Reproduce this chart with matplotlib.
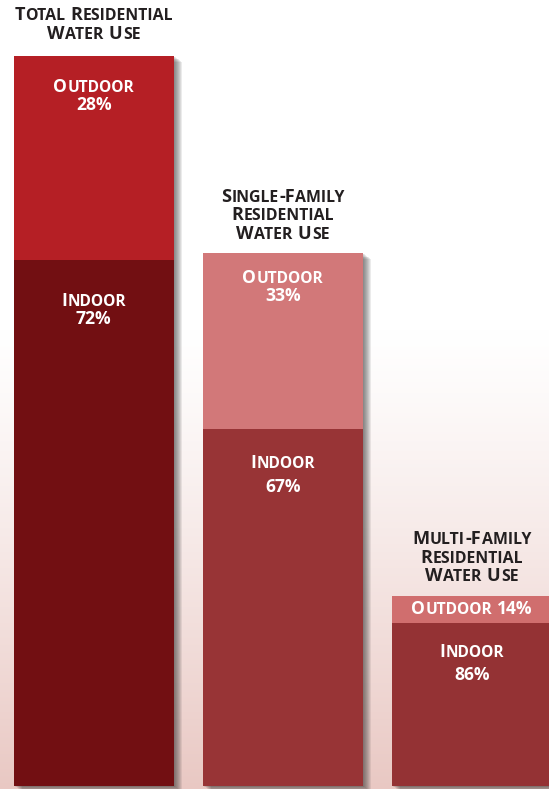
import matplotlib
matplotlib.use('Agg')
import matplotlib.pyplot as plt
import matplotlib.patheffects as pe
from matplotlib.transforms import IdentityTransform
import numpy as np

# data
groups = ['Total Residential\nWater Use',
          'Single-Family\nResidential\nWater Use',
          'Multi-Family\nResidential\nWater Use']
share = [100, 73, 26]          # relative size of each group
outdoor_pct = [28, 33, 14]
indoor_pct = [72, 67, 86]

outdoor_colors = ['#b51f25', '#d27879', '#d06e6e']
indoor_colors = ['#720f12', '#983436', '#943234']

FONT = 'Open Sans'
W, H = 549, 789


def smallcaps(fig, renderer, cx, base, text, big, small, color, weight):
    # fake small caps: capitals and digits at full size, lower case shrunk
    runs = []
    for ch in text:
        size = small if ch.islower() else big
        if runs and runs[-1][1] == size and ch != ' ' and runs[-1][0][-1] != ' ':
            runs[-1][0] += ch.upper()
        else:
            runs.append([ch.upper(), size])
    items = []
    total = 0
    for s, size in runs:
        if s == ' ':
            w = big * 0.26
            items.append((None, w))
        else:
            t = fig.text(0, base, s, fontsize=size * 0.72, fontfamily=FONT, fontweight=weight,
                         color=color, va='baseline', ha='left', transform=IdentityTransform())
            w = t.get_window_extent(renderer).width + 0.5
            items.append((t, w))
        total += w
    x = cx - total / 2
    for t, w in items:
        if t is not None:
            t.set_x(x)
        x += w


def block(fig, renderer, cx, base, text, big, small, color, spacing, weight='bold'):
    for i, line in enumerate(text.split('\n')):
        smallcaps(fig, renderer, cx, base - i * spacing, line, big, small, color, weight)


fig = plt.figure(figsize=(W / 100, H / 100), dpi=100)
ax = fig.add_axes([0, 0, 1, 1])

# background gradient
grad = np.ones((H, 1, 3))
rows = np.arange(H)
t = np.clip((rows - 330) / (H - 330), 0, 1) ** 1.2
bottom = np.array([233, 200, 195]) / 255
for c in range(3):
    grad[:, 0, c] = 1 - t * (1 - bottom[c])
ax.imshow(grad, extent=[0, 1, 0, 1], transform=ax.transAxes, aspect='auto', zorder=0)

x = np.arange(len(groups))
width = 0.8466
outdoor = [s * p / 100 for s, p in zip(share, outdoor_pct)]
indoor = [s * p / 100 for s, p in zip(share, indoor_pct)]

# blurred drop shadow
shadow = []
for k in range(1, 9):
    shadow.append(pe.SimplePatchShadow(offset=(k * 0.72, -k * 0.5), shadow_rgbFace='#2a2a2a', alpha=0.09))
ax.bar(x, share, width, color='none', zorder=1,
       path_effects=shadow)
ax.bar(x, indoor, width, color=indoor_colors, zorder=2)
ax.bar(x, outdoor, width, bottom=indoor, color=outdoor_colors, zorder=2)

ax.set_xlim(-0.497, 2.407)
ax.set_ylim(-0.41, 107.67)
ax.axis('off')

fig.canvas.draw()
renderer = fig.canvas.get_renderer()

title_gap = [17, 14, 15]
out_sep = ['\n', '\n', ' ']
out_off = [36, 30, 18]
out_sp = [18, 18, 18]
in_off = [46, 39, 34]
in_sp = [18, 24, 23]

for i in range(len(groups)):
    cx, top = ax.transData.transform((x[i], share[i]))
    _, mid = ax.transData.transform((x[i], indoor[i]))
    n = groups[i].count('\n')
    block(fig, renderer, cx, top + title_gap[i] + n * 18.7, groups[i], 18.2, 15.9, '#231f20', 18.7)
    block(fig, renderer, cx, top - out_off[i], f'Outdoor{out_sep[i]}{outdoor_pct[i]}%',
          17.5, 15.5, 'white', out_sp[i])
    block(fig, renderer, cx, mid - in_off[i], f'Indoor\n{indoor_pct[i]}%',
          17.5, 15.5, 'white', in_sp[i])

fig.savefig('out.png', dpi=100)
